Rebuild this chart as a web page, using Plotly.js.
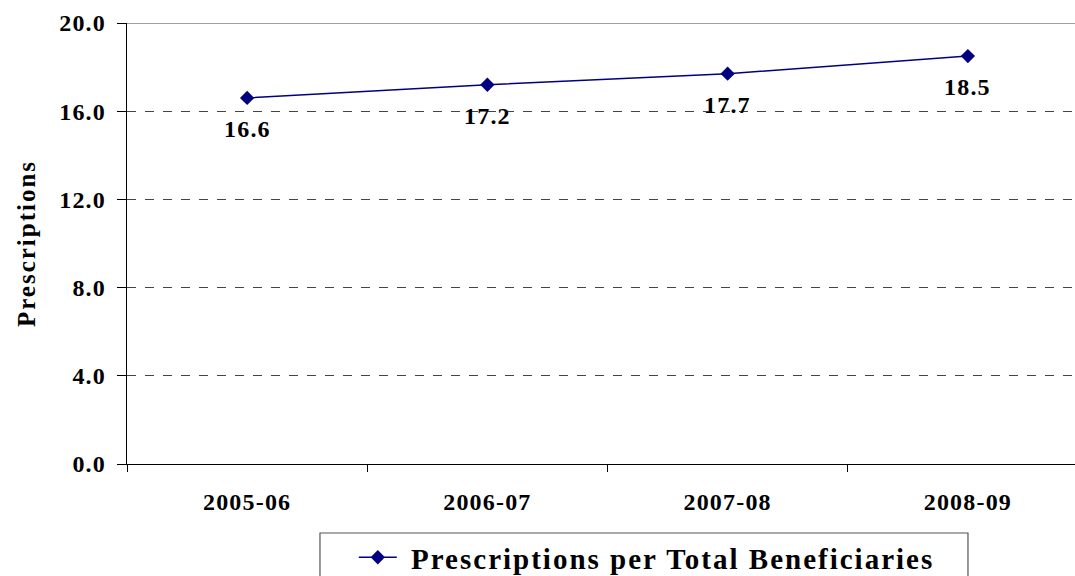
<!DOCTYPE html>
<html>
<head>
<meta charset="utf-8">
<script src="https://cdn.plot.ly/plotly-3.0.1.min.js"></script>
<style>
  html, body { margin: 0; padding: 0; overflow: hidden; background: #fff; }
  #chart { width: 1100px; height: 576px; }
  text { letter-spacing: 1.2px; }
  text.legendtext { letter-spacing: 2px; }
  text.ytitle { letter-spacing: 2px; }
</style>
</head>
<body>
<div id="chart"></div>
<script>
const categories = ["2005-06", "2006-07", "2007-08", "2008-09"];
const prescriptions = [16.6, 17.2, 17.7, 18.5];
const seriesName = "Prescriptions per Total Beneficiaries";
const yTicks = [0, 4, 8, 12, 16, 20];
const yTickLabels = ["0.0", "4.0", "8.0", "12.0", "16.0", "20.0"];

const FONT = "Liberation Serif, Times New Roman, serif";

const trace = {
  type: "scatter",
  mode: "lines+markers",
  x: categories,
  y: prescriptions,
  name: "\u00a0" + seriesName,
  line: { color: "#000080", width: 1.5 },
  marker: { symbol: "diamond", size: 11, color: "#000080" },
  hoverinfo: "x+y"
};

const annotations = categories.map((c, i) => ({
  x: c, y: prescriptions[i], xref: "x", yref: "y",
  text: prescriptions[i].toFixed(1),
  showarrow: false, yshift: -31, xshift: 0,
  font: { family: FONT, size: 24, weight: "bold", color: "#000" }
}));

const layout = {
  width: 1100, height: 576,
  margin: { l: 127, r: 12, t: 23, b: 112, autoexpand: false },
  paper_bgcolor: "#fff", plot_bgcolor: "#fff",
  font: { family: FONT, size: 24, weight: "bold", color: "#000" },
  showlegend: true,
  legend: {
    x: 0.236, y: -0.154, xanchor: "left", yanchor: "top",
    orientation: "h", bgcolor: "rgba(0,0,0,0)", borderwidth: 0,
    font: { family: FONT, size: 29, weight: "bold", color: "#000" },
    itemwidth: 38
  },
  xaxis: {
    type: "category",
    range: [-0.5, 3.5],
    tickson: "boundaries",
    ticks: "outside", ticklen: 7, tickcolor: "#000", tickwidth: 1,
    showline: true, linecolor: "#000", linewidth: 1.2,
    showgrid: false, zeroline: false,
    automargin: false,
    ticklabelstandoff: 16,
    tickfont: { family: FONT, size: 24, weight: "bold", color: "#000" }
  },
  yaxis: {
    range: [0, 20],
    tickvals: yTicks, ticktext: yTickLabels,
    ticks: "outside", ticklen: 9, tickcolor: "#000", tickwidth: 1,
    showline: true, linecolor: "#000", linewidth: 1.2,
    showgrid: true, gridcolor: "#444", griddash: "dash", gridwidth: 1,
    zeroline: false,
    automargin: false,
    ticklabelstandoff: 6,
    tickfont: { family: FONT, size: 24, weight: "bold", color: "#000" },
    title: { text: "Prescriptions", standoff: 16,
      font: { family: FONT, size: 25, weight: "bold", color: "#000" } }
  },
  shapes: [
    { type: "line", xref: "paper", yref: "y", x0: 0, x1: 1, y0: 20, y1: 20,
      line: { color: "#808080", width: 1.5 } },
    { type: "rect", xref: "paper", yref: "paper", x0: 0.2008, x1: 0.8751, y0: -0.1565, y1: -0.35,
      line: { color: "#555", width: 1.2 }, fillcolor: "#fff", layer: "below" }
  ],
  annotations: annotations
};

Plotly.newPlot("chart", [trace], layout, { displayModeBar: false, staticPlot: true });
</script>
</body>
</html>
